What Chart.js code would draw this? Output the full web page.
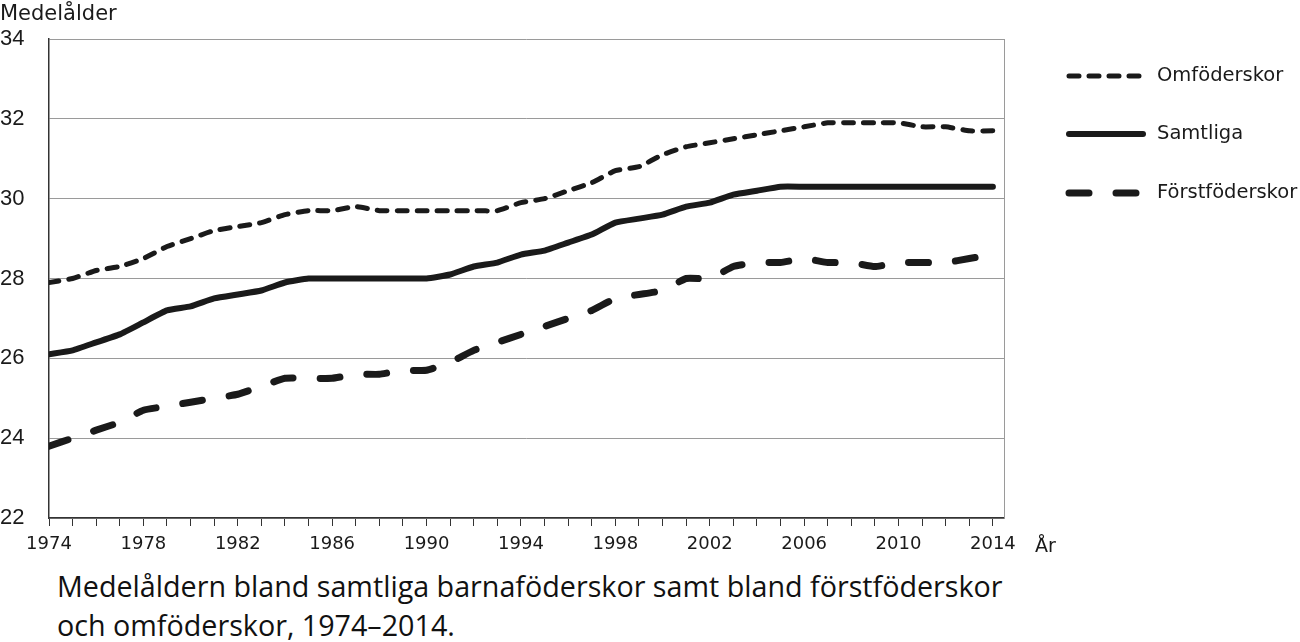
<!DOCTYPE html>
<html lang="sv">
<head>
<meta charset="utf-8">
<script src="https://cdn.jsdelivr.net/npm/chart.js@4"></script>
<style>
  html, body { margin: 0; padding: 0; background: #fff; }
  #wrap { position: relative; width: 1300px; height: 642px; overflow: hidden; }
  #chart { position: absolute; left: 0; top: 0; }
  .txt { position: absolute; color: #1a1a1a; white-space: nowrap; }
  #ytitle { left: 0px; top: 1px; font: 21px "DejaVu Sans", sans-serif; }
  #xtitle { left: 1035px; top: 534px; font: 19px "DejaVu Sans", sans-serif; }
  .cap { left: 57px; font: 28.7px "Open Sans", sans-serif; color: #111; }
  #cap1 { top: 566px; }
  #cap2 { top: 605px; }
</style>
</head>
<body>
<div id="wrap">
  <canvas id="chart" width="1300" height="560"></canvas>
  <div class="txt" id="ytitle">Medelålder</div>
  <div class="txt" id="xtitle">År</div>
  <div class="txt cap" id="cap1">Medelåldern bland samtliga barnaföderskor samt bland förstföderskor</div>
  <div class="txt cap" id="cap2">och omföderskor, 1974–2014.</div>
</div>
<script>
// data
const years = [1974,1975,1976,1977,1978,1979,1980,1981,1982,1983,
               1984,1985,1986,1987,1988,1989,1990,1991,1992,1993,
               1994,1995,1996,1997,1998,1999,2000,2001,2002,2003,
               2004,2005,2006,2007,2008,2009,2010,2011,2012,2013,2014];
const omfoderskor = [27.9,28.0,28.2,28.3,28.5,28.8,29.0,29.2,29.3,29.4,
                     29.6,29.7,29.7,29.8,29.7,29.7,29.7,29.7,29.7,29.7,
                     29.9,30.0,30.2,30.4,30.7,30.8,31.1,31.3,31.4,31.5,
                     31.6,31.7,31.8,31.9,31.9,31.9,31.9,31.8,31.8,31.7,31.7];
const samtliga = [26.1,26.2,26.4,26.6,26.9,27.2,27.3,27.5,27.6,27.7,
                  27.9,28.0,28.0,28.0,28.0,28.0,28.0,28.1,28.3,28.4,
                  28.6,28.7,28.9,29.1,29.4,29.5,29.6,29.8,29.9,30.1,
                  30.2,30.3,30.3,30.3,30.3,30.3,30.3,30.3,30.3,30.3,30.3];
const forstfoderskor = [23.8,24.0,24.2,24.4,24.7,24.8,24.9,25.0,25.1,25.3,
                        25.5,25.5,25.5,25.6,25.6,25.7,25.7,25.9,26.2,26.4,
                        26.6,26.8,27.0,27.2,27.5,27.6,27.7,28.0,28.0,28.3,
                        28.4,28.4,28.5,28.4,28.4,28.3,28.4,28.4,28.4,28.5,28.6];
const seriesNames = ['Omföderskor', 'Samtliga', 'Förstföderskor'];
const yTicks = [22, 24, 26, 28, 30, 32, 34];
const labelYears = [1974,1978,1982,1986,1990,1994,1998,2002,2006,2010,2014];

const toPoints = arr => arr.map((v, i) => ({ x: years[i], y: v }));

// legend drawn at fixed spot right of the plot
const legendPlugin = {
  id: 'sideLegend',
  afterDraw(chart) {
    const ctx = chart.ctx;
    const rows = [76, 134, 193];
    chart.data.datasets.forEach((ds, i) => {
      const y = rows[i];
      ctx.save();
      ctx.strokeStyle = ds.borderColor;
      ctx.lineWidth = ds.borderWidth;
      ctx.lineCap = 'round';
      ctx.setLineDash(ds.borderDash || []);
      ctx.beginPath();
      ctx.moveTo(1069, y);
      ctx.lineTo(1143, y);
      ctx.stroke();
      ctx.setLineDash([]);
      ctx.fillStyle = '#1a1a1a';
      ctx.font = '19.5px "DejaVu Sans", sans-serif';
      ctx.textBaseline = 'middle';
      ctx.fillText(ds.label, 1157, y);
      ctx.restore();
    });
  }
};

const lineBase = { borderColor: '#1a1a1a', pointRadius: 0, tension: 0.15,
                   borderJoinStyle: 'round', borderCapStyle: 'round', fill: false };

new Chart(document.getElementById('chart'), {
  type: 'line',
  data: {
    datasets: [
      Object.assign({}, lineBase, { label: seriesNames[0], data: toPoints(omfoderskor),
        borderWidth: 5, borderDash: [10, 10] }),
      Object.assign({}, lineBase, { label: seriesNames[1], data: toPoints(samtliga),
        borderWidth: 6 }),
      Object.assign({}, lineBase, { label: seriesNames[2], data: toPoints(forstfoderskor),
        borderWidth: 7, borderDash: [20, 27] })
    ]
  },
  options: {
    responsive: false,
    animation: false,
    layout: { padding: { left: 0, right: 296, top: 39, bottom: 0 } },
    plugins: { legend: { display: false }, tooltip: { enabled: false } },
    scales: {
      x: {
        type: 'linear',
        min: 1974,
        max: 2014.47,
        afterBuildTicks: s => { s.ticks = years.map(v => ({ value: v })); },
        afterFit: s => { s.height = 42; },
        grid: { drawOnChartArea: false, tickLength: 8, color: '#333', tickColor: '#333' },
        border: { color: '#333', width: 1.5 },
        ticks: {
          autoSkip: false,
          maxRotation: 0,
          padding: 8,
          color: '#1a1a1a',
          font: { family: '"DejaVu Sans", sans-serif', size: 18 },
          callback: v => labelYears.includes(v) ? String(v) : ''
        }
      },
      y: {
        min: 22,
        max: 34,
        afterBuildTicks: s => { s.ticks = yTicks.map(v => ({ value: v })); },
        afterFit: s => { s.width = 49; },
        grid: { color: '#9a9a9a', lineWidth: 1, drawTicks: false },
        border: { color: '#333', width: 1.5 },
        ticks: {
          crossAlign: 'far',
          padding: 0,
          color: '#1a1a1a',
          font: { family: '"Liberation Sans", Arial, sans-serif', size: 22 }
        }
      },
      yRight: {
        position: 'right',
        min: 22,
        max: 34,
        afterFit: s => { s.width = 0; },
        grid: { display: false, drawTicks: false },
        border: { color: '#9a9a9a', width: 1 },
        ticks: { display: false }
      }
    }
  },
  plugins: [legendPlugin]
});
</script>
</body>
</html>
